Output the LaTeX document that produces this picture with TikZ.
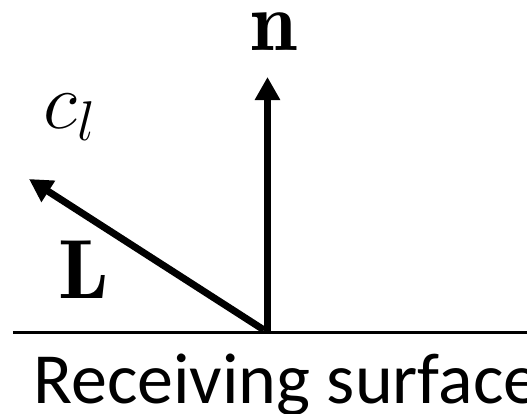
\RequirePackage{fix-cm}
\documentclass[tikz,border=0pt]{standalone}
\usepackage{amsmath}
\usepackage{fontspec}
\setsansfont{Carlito}
\usetikzlibrary{arrows.meta,positioning}
\tikzset{
  vecarrow/.style={-{Triangle[length=11.5pt,width=12pt]}, line width=3.5pt, draw=black},
  surfline/.style={line width=1.5pt, draw=black},
  veclabel/.style={inner sep=0pt, font=\fontsize{40}{44}\selectfont},
  boldlabel/.style={veclabel, font=\fontsize{42}{46}\selectfont},
  surflabel/.style={inner sep=0pt, font=\sffamily\fontsize{36}{42}\selectfont}
}
\begin{document}
\begin{tikzpicture}[x=0.5pt, y=-0.5pt]
  \useasboundingbox (0,0) rectangle (527,414);
  % surface and hit point
  \coordinate (sl) at (13,332);
  \coordinate (sr) at (540,332);
  \coordinate (o) at (267.5,332);
  \coordinate (ntip) at (267.5,77);
  \coordinate (ltip) at (29,179);
  \draw[surfline] (sl) -- (sr);
  % vectors
  \draw[vecarrow] (o) -- (ntip);
  \draw[vecarrow] (264,330) -- (ltip);
  % labels
  \node (nlab) [boldlabel, anchor=base] at (274,50) {$\mathbf{n}$};
  \node (clab) [veclabel, anchor=base west] at (43,128) {$c_l$};
  \node (llab) [boldlabel, anchor=base] at (84,298) {$\mathbf{L}$};
  \node (slab) [surflabel, anchor=base west] at (33,403) {Receiving surface};
\end{tikzpicture}
\end{document}
